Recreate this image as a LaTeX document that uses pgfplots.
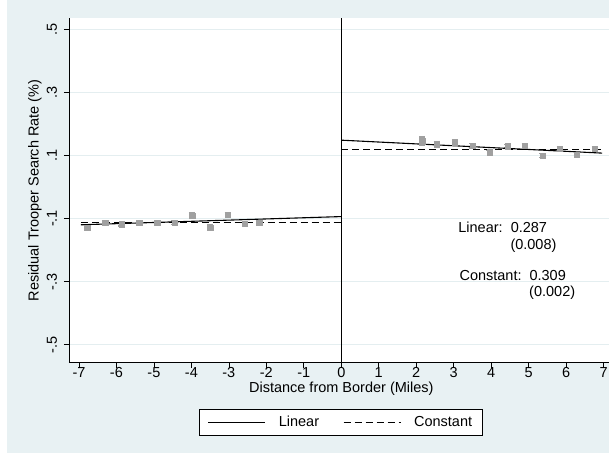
\documentclass[border=0pt]{standalone}
\usepackage{pgfplots}
\pgfplotsset{compat=1.18}
\usetikzlibrary{calc}
\usepackage{fontspec}
\setmainfont{Liberation Sans}
\definecolor{bgcol}{RGB}{232,241,243}
\definecolor{gridc}{RGB}{228,238,240}
\definecolor{ptc}{RGB}{160,160,160}
\pgfplotstableread{
x y e
-6.78 -0.128 0.007
-6.30 -0.114 0.006
-5.86 -0.118 0.006
-5.39 -0.114 0.006
-4.91 -0.114 0.006
-4.45 -0.114 0.006
-3.98 -0.090 0.007
-3.50 -0.128 0.007
-3.03 -0.088 0.007
-2.57 -0.117 0.007
-2.19 -0.114 0.007
}\leftpts
\pgfplotstableread{
x y e
2.16 0.145 0.013
2.55 0.135 0.008
3.03 0.141 0.009
3.50 0.130 0.007
3.96 0.110 0.007
4.43 0.129 0.006
4.90 0.131 0.006
5.37 0.099 0.006
5.83 0.122 0.006
6.29 0.101 0.006
6.77 0.121 0.007
}\rightpts
\begin{document}
\fontsize{14.5}{17}\selectfont
\begin{tikzpicture}
\path[fill=white] (-69pt,-91pt) rectangle (540pt,363pt);
\path[fill=bgcol] (-62pt,-90pt) rectangle (540pt,363pt);
\begin{axis}[
  at={(0pt,0pt)}, anchor=south west,
  scale only axis, width=540pt, height=345pt,
  xmin=-7.267, xmax=7.133, ymin=-0.557, ymax=0.535,
  axis background/.style={fill=white},
  axis lines=left,
  axis line style={-, black, line width=0.7pt},
  tick style={black, line width=0.7pt},
  tick align=outside, major tick length=5pt,
  xtick={-7,-6,...,7}, xticklabels={},
  ytick={-0.5,-0.3,-0.1,0.1,0.3,0.5}, yticklabels={},
  ymajorgrids, grid style={gridc, line width=0.8pt},
  legend style={at={(0.504,-0.133)}, anchor=north, legend columns=2,
    draw=black, fill=white, line width=0.7pt, inner xsep=8pt, inner ysep=5pt,
    font=\fontsize{14.5}{17}\selectfont,
    /tikz/every odd column/.append style={column sep=11pt},
    /tikz/every even column/.append style={column sep=22pt}},
  legend image code/.code={\draw[#1] (0pt,0pt) -- (57pt,0pt);},
  clip=false,
]
\addplot[forget plot, only marks, mark=square*, mark size=2.6pt, color=ptc, mark options={fill=ptc, draw=ptc},
  error bars/.cd, y dir=both, y explicit,
  error bar style={ptc, line width=1.4pt},
  error mark options={rotate=90, mark size=3.2pt, ptc, line width=1.4pt}]
  table[x=x, y=y, y error=e] {\leftpts};
\addplot[forget plot, only marks, mark=square*, mark size=2.6pt, color=ptc, mark options={fill=ptc, draw=ptc},
  error bars/.cd, y dir=both, y explicit,
  error bar style={ptc, line width=1.4pt},
  error mark options={rotate=90, mark size=3.2pt, ptc, line width=1.4pt}]
  table[x=x, y=y, y error=e] {\rightpts};
\addplot[black, line width=1pt, forget plot] coordinates {(0,-0.557) (0,0.535)};
\addplot[black, line width=1.1pt] coordinates {(-6.95,-0.120) (0,-0.094)};
\addlegendentry{Linear}
\addplot[black, line width=1.1pt, dash pattern=on 7pt off 4pt] coordinates {(-6.95,-0.112) (0,-0.112)};
\addlegendentry{Constant\hspace{12pt}}
\addplot[black, line width=1.1pt, forget plot] coordinates {(0,0.148) (6.96,0.107)};
\addplot[black, line width=1.1pt, dash pattern=on 7pt off 4pt, forget plot] coordinates {(0,0.119) (6.96,0.119)};
\pgfplotsinvokeforeach{-7,-6,-5,-4,-3,-2,-1,0,1,2,3,4,5,6,7}{
  \node[anchor=center, inner sep=0pt] at ($(axis cs:#1,-0.557)+(0pt,-9.5pt)$) {#1};
}
\pgfplotsinvokeforeach{-.5,-.3,-.1,.1,.3,.5}{
  \node[anchor=center, inner sep=0pt, rotate=90] at ($(axis cs:-7.267,#1)+(-17pt,0pt)$) {#1};
}
\node[anchor=west, inner sep=0pt] at (axis cs:3.12,-0.129) {Linear:\ \ 0.287};
\node[anchor=west, inner sep=0pt] at (axis cs:4.51,-0.186) {(0.008)};
\node[anchor=west, inner sep=0pt] at (axis cs:3.15,-0.281) {Constant:\ \ 0.309};
\node[anchor=west, inner sep=0pt] at (axis cs:5.01,-0.335) {(0.002)};
\node[anchor=center, inner sep=0pt] at ($(axis cs:0,-0.557)+(0pt,-26pt)$) {Distance from Border (Miles)};
\node[anchor=center, inner sep=0pt, rotate=90] at ($(axis cs:-7.267,-0.011)+(-34pt,0pt)$) {Residual Trooper Search Rate (\%)};
\end{axis}
\end{tikzpicture}
\end{document}
